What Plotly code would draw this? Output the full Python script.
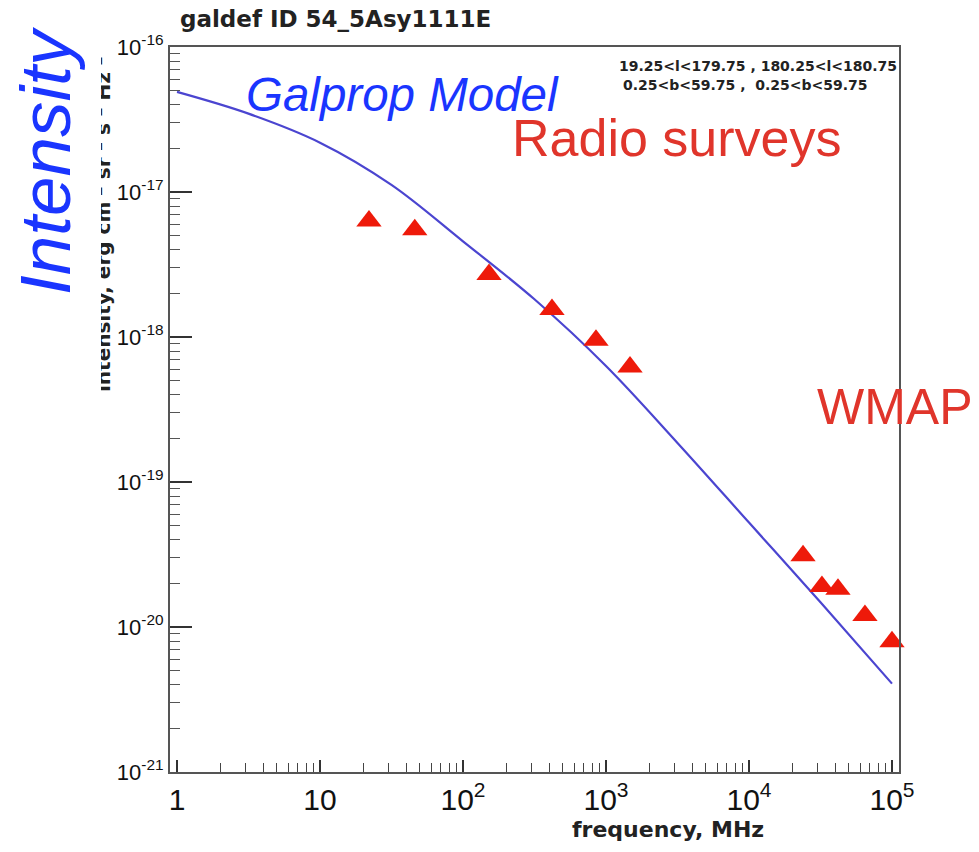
import plotly.graph_objects as go

# ---------------- data ----------------
model_freq = [1, 3.16, 10, 31.6, 100, 316, 1000, 3162, 10000, 31623, 100000]
model_intensity = [4.9e-17, 3.47e-17, 2.19e-17, 1.12e-17, 4.57e-18, 1.82e-18,
                   6.31e-19, 1.86e-19, 5.25e-20, 1.48e-20, 4.07e-21]

survey_freq = [22, 46, 152, 419, 851, 1472, 23870, 32360, 41900, 64700, 100000]
survey_intensity = [6.3e-18, 5.5e-18, 2.7e-18, 1.55e-18, 9.5e-19, 6.2e-19,
                    3.1e-20, 1.9e-20, 1.82e-20, 1.2e-20, 7.9e-21]

x_tickvals = [1, 10, 100, 1e3, 1e4, 1e5]
x_ticktext = ["1", "10", "10<sup>2</sup>", "10<sup>3</sup>", "10<sup>4</sup>", "10<sup>5</sup>"]
y_tickvals = [1e-21, 1e-20, 1e-19, 1e-18, 1e-17, 1e-16]
y_ticktext = ["10<sup>-21</sup>", "10<sup>-20</sup>", "10<sup>-19</sup>", "10<sup>-18</sup>",
              "10<sup>-17</sup>", "10<sup>-16</sup>"]

x_minor = [m * 10 ** e for e in range(0, 5) for m in range(2, 10)]
y_minor = [m * 10.0 ** e for e in range(-21, -16) for m in range(2, 10)]

# ---------------- layout geometry ----------------
W, H = 979, 852
L, R, T, B = 170, 899, 47, 772


def px(x):
    return (x - L) / (R - L)


def py(y):
    return (B - y) / (B - T)


fig = go.Figure()
fig.add_trace(go.Scatter(x=model_freq, y=model_intensity, mode="lines",
                         line=dict(color="#4b45d0", width=2.2, shape="spline", smoothing=1.0),
                         showlegend=False, hoverinfo="skip"))
fig.add_trace(go.Scatter(x=survey_freq, y=survey_intensity, mode="markers",
                         marker=dict(symbol="triangle-up", size=22, color="#ee1a0a",
                                     line=dict(width=0)),
                         showlegend=False, hoverinfo="skip", cliponaxis=False))

root_font = "DejaVu Sans"
tick_font = "Liberation Sans, Arial"

fig.update_xaxes(type="log", range=[-0.049, 5.049], showgrid=False, zeroline=False,
                 showline=True, linecolor="#555555", linewidth=2, mirror=True,
                 ticks="inside", ticklen=12, tickwidth=1.5, tickcolor="#333333",
                 tickmode="array", tickvals=x_tickvals, ticktext=x_ticktext,
                 tickfont=dict(family=tick_font, size=30, color="#111111"),
                 minor=dict(ticks="inside", ticklen=9, tickwidth=1.2, tickcolor="#444444",
                            tickmode="array", tickvals=x_minor, showgrid=False))
fig.update_yaxes(type="log", range=[-21, -16], showgrid=False, zeroline=False,
                 showline=True, linecolor="#555555", linewidth=2, mirror=True,
                 ticks="inside", ticklen=22, tickwidth=1.5, tickcolor="#333333",
                 tickmode="array", tickvals=y_tickvals, ticktext=y_ticktext,
                 tickfont=dict(family=tick_font, size=22, color="#111111"),
                 minor=dict(ticks="inside", ticklen=10, tickwidth=1.2, tickcolor="#555555",
                            tickmode="array", tickvals=y_minor, showgrid=False))

annotations = [
    dict(text="galdef ID 54_5Asy1111E", x=px(178), y=py(19), xanchor="left", yanchor="middle",
         font=dict(family=root_font, size=23, color="#222222", weight="bold")),
    dict(text="19.25&lt;l&lt;179.75 , 180.25&lt;l&lt;180.75", x=px(617), y=py(66),
         xanchor="left", yanchor="middle",
         font=dict(family=root_font, size=14, color="#222222", weight="bold")),
    dict(text="0.25&lt;b&lt;59.75 ,  0.25&lt;b&lt;59.75", x=px(621), y=py(85),
         xanchor="left", yanchor="middle",
         font=dict(family=root_font, size=14, color="#222222", weight="bold")),
    dict(text="frequency, MHz", x=px(668), y=py(829), xanchor="center", yanchor="middle",
         font=dict(family=root_font, size=22, color="#222222", weight="bold")),
    dict(text="intensity, erg cm<sup>-2</sup> sr<sup>-1</sup> s<sup>-1</sup> Hz<sup>-1</sup>",
         x=px(102), y=py(225), xanchor="center", yanchor="middle", textangle=-90,
         font=dict(family=root_font, size=20, color="#222222", weight="bold")),
    # white mask reproducing the cropped left edge of the original image
    dict(text=" ", x=px(0), y=py(225), xanchor="left", yanchor="middle",
         width=101, height=460, bgcolor="#ffffff", borderpad=0, borderwidth=0),
    dict(text="<i>Intensity</i>", x=px(45), y=py(161), xanchor="center", yanchor="middle",
         textangle=-90, font=dict(family="Liberation Sans, Arial", size=71, color="#1a35ff")),
    dict(text="<i>Galprop Model</i>", x=px(244), y=py(94), xanchor="left", yanchor="middle",
         font=dict(family="Liberation Sans, Arial", size=47.5, color="#1a35ff")),
    dict(text="Radio surveys", x=px(510), y=py(138), xanchor="left", yanchor="middle",
         font=dict(family="Liberation Sans, Arial", size=52, color="#e0352b")),
    dict(text="WMAP", x=px(815), y=py(407), xanchor="left", yanchor="middle",
         font=dict(family="Liberation Sans, Arial", size=50, color="#e0352b")),
]
for a in annotations:
    a.update(xref="paper", yref="paper", showarrow=False)

fig.update_layout(width=W, height=H, margin=dict(l=L, r=W - R, t=T, b=H - B),
                  paper_bgcolor="white", plot_bgcolor="white",
                  annotations=annotations, showlegend=False)

fig.write_html("out.html")
